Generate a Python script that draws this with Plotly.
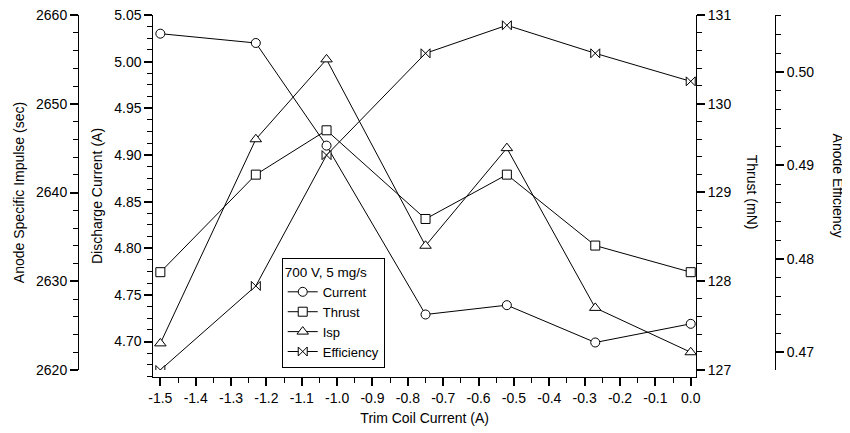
import plotly.graph_objects as go

# ---- data ----
trim_current = [-1.5, -1.23, -1.03, -0.75, -0.52, -0.27, 0.0]
discharge_current = [5.03, 5.02, 4.91, 4.729, 4.739, 4.699, 4.719]
thrust = [128.1, 129.2, 129.7, 128.7, 129.2, 128.4, 128.1]
isp = [2623, 2646, 2655, 2634, 2645, 2627, 2622]
efficiency = [0.4681, 0.4771, 0.4911, 0.502, 0.505, 0.502, 0.499]

x_tickvals = [-1.5, -1.4, -1.3, -1.2, -1.1, -1.0, -0.9, -0.8, -0.7, -0.6,
              -0.5, -0.4, -0.3, -0.2, -0.1, 0.0]
x_ticktext = ["-1.5", "-1.4", "-1.3", "-1.2", "-1.1", "-1.0", "-0.9", "-0.8",
              "-0.7", "-0.6", "-0.5", "-0.4", "-0.3", "-0.2", "-0.1", "0.0"]

legend_title = "700 V, 5 mg/s"
series_names = ["Current", "Thrust", "Isp", "Efficiency"]

FONT = "Liberation Sans, Arial, sans-serif"
BLACK = "black"

def marker(sym, size):
    return dict(symbol=sym, size=size, color="white",
                line=dict(color=BLACK, width=1))

fig = go.Figure()
fig.add_trace(go.Scatter(x=trim_current, y=discharge_current, name=series_names[0],
                         mode="lines+markers", line=dict(color=BLACK, width=1),
                         marker=marker("circle", 9), xaxis="x", yaxis="y"))
fig.add_trace(go.Scatter(x=trim_current, y=thrust, name=series_names[1],
                         mode="lines+markers", line=dict(color=BLACK, width=1),
                         marker=marker("square", 9), xaxis="x", yaxis="y2"))
fig.add_trace(go.Scatter(x=trim_current, y=isp, name=series_names[2],
                         mode="lines+markers", line=dict(color=BLACK, width=1),
                         marker=marker("triangle-up", 10), xaxis="x2", yaxis="y3"))
fig.add_trace(go.Scatter(x=trim_current, y=efficiency, name=series_names[3],
                         mode="lines+markers", line=dict(color=BLACK, width=1),
                         marker=marker("bowtie", 9), xaxis="x2", yaxis="y4"))

xdom = [0.108, 0.8867]
xrange_ = [-1.52, 0.015]

common = dict(showgrid=False, zeroline=False, showline=True, linecolor=BLACK,
              linewidth=1, ticks="outside", tickcolor=BLACK, tickwidth=1.5,
              ticklen=8, ticklabeloverflow="allow",
              tickfont=dict(family=FONT, size=14, color=BLACK))

def minor(dt, t0):
    return dict(dtick=dt, tick0=t0, ticks="outside", ticklen=5,
                tickcolor=BLACK, tickwidth=1, showgrid=False)

fig.update_layout(
    width=850, height=433,
    margin=dict(l=70, r=83, t=7, b=64, autoexpand=False),
    paper_bgcolor="white", plot_bgcolor="rgba(0,0,0,0)",
    font=dict(family=FONT, size=14, color=BLACK),
    xaxis=dict(domain=xdom, range=xrange_, anchor="y",
               tickmode="array", tickvals=x_tickvals, ticktext=x_ticktext,
               minor=minor(0.05, -1.5),
               title=dict(text="Trim Coil Current (A)", standoff=8,
                          font=dict(family=FONT, size=14, color=BLACK)),
               **common),
    xaxis2=dict(domain=xdom, range=xrange_, anchor="y3", visible=False),
    yaxis=dict(range=[4.662, 5.05], anchor="x", side="left",
               dtick=0.05, tick0=4.70, tickformat=".2f",
               minor=minor(0.0125, 4.70),
               title=dict(text="Discharge Current (A)", standoff=8,
                          font=dict(family=FONT, size=14, color=BLACK)),
               **common),
    yaxis2=dict(range=[126.918, 131], anchor="x", side="right", overlaying="y",
                dtick=1, tick0=127, minor=minor(0.2, 127), **common),
    yaxis3=dict(range=[2620, 2660], domain=[0.0193, 1], anchor="free",
                position=0, side="left", dtick=10, tick0=2620,
                minor=minor(2, 2620),
                title=dict(text="Anode Specific Impulse (sec)", standoff=7,
                           font=dict(family=FONT, size=14, color=BLACK)),
                **common),
    yaxis4=dict(range=[0.4681, 0.5061], anchor="free", position=1,
                side="right", overlaying="y3", dtick=0.01, tick0=0.47,
                tickformat=".2f", minor=minor(0.002, 0.47), **common),
    legend=dict(x=0.2923, y=0.024, xanchor="left", yanchor="bottom",
                bgcolor="white", bordercolor=BLACK, borderwidth=1,
                title=dict(text=legend_title, font=dict(family=FONT, size=13.5)),
                font=dict(family=FONT, size=13, color=BLACK),
                itemwidth=30, tracegroupgap=0),
    showlegend=True,
)

fig.add_annotation(text="Thrust (mN)", xref="paper", yref="paper",
                   x=0.9666, y=0.5097, xanchor="center", yanchor="middle",
                   textangle=90, showarrow=False,
                   font=dict(family=FONT, size=14, color=BLACK))
fig.add_annotation(text="Anode Efficiency", xref="paper", yref="paper",
                   x=1.0897, y=0.530, xanchor="center", yanchor="middle",
                   textangle=90, showarrow=False,
                   font=dict(family=FONT, size=14, color=BLACK))

fig.write_html("out.html")
